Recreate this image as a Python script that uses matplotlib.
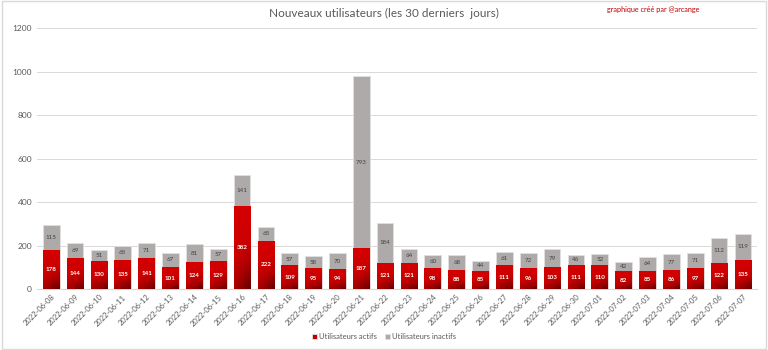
import matplotlib
matplotlib.use("Agg")
import matplotlib.pyplot as plt
from matplotlib.colors import LinearSegmentedColormap
import numpy as np
import datetime

plt.rcParams["font.family"] = ["Lato", "DejaVu Sans"]

start = datetime.date(2022, 6, 8)
dates = [(start + datetime.timedelta(days=i)).strftime("%Y-%m-%d") for i in range(30)]

actifs = [178, 144, 130, 135, 141, 101, 124, 129, 382, 222,
          109, 95, 94, 187, 121, 121, 98, 88, 85, 111,
          96, 103, 111, 110, 82, 85, 86, 97, 122, 135]
inactifs = [115, 69, 51, 65, 71, 67, 81, 57, 141, 65,
            57, 58, 70, 793, 184, 64, 60, 68, 44, 61,
            72, 79, 46, 52, 42, 64, 77, 71, 112, 119]

fig = plt.figure(figsize=(7.68, 3.5), dpi=100)
ax = fig.add_axes([0.048, 0.174, 0.938, 0.746])

x = np.arange(len(dates))
b1 = ax.bar(x, actifs, width=0.7, color="#C00000", edgecolor="#E6E6E6", linewidth=0.6,
            label="Utilisateurs actifs", zorder=3)
b2 = ax.bar(x, inactifs, width=0.7, bottom=actifs, color="#AEAAAA", edgecolor="#E0E0E0",
            linewidth=0.6, label="Utilisateurs inactifs", zorder=3)

# degrade rouge facon Excel (clair en haut, sombre en bas a droite)
reds = LinearSegmentedColormap.from_list("rouge", ["#D40000", "#C80000", "#A00000", "#6A0000"])
uu, vv = np.meshgrid(np.linspace(0, 1, 20), np.linspace(0, 1, 60))
grad = np.clip(0.6 * vv ** 1.6 + 0.45 * uu * vv ** 1.3, 0, 1)
for bar in b1:
    bx, by = bar.get_x(), bar.get_y()
    w, h = bar.get_width(), bar.get_height()
    im = ax.imshow(grad, cmap=reds, vmin=0, vmax=1, extent=[bx, bx + w, by, by + h],
                   origin="upper", aspect="auto", zorder=3.2, interpolation="bilinear")
    im.set_clip_path(bar)

# valeurs dans les barres
for i in range(len(dates)):
    ax.text(x[i], actifs[i] / 2, str(actifs[i]), ha="center", va="center",
            fontsize=4.5, color="white", fontweight="bold", zorder=4)
    ax.text(x[i], actifs[i] + inactifs[i] / 2, str(inactifs[i]), ha="center", va="center",
            fontsize=4.5, color="#404040", zorder=4)

ax.set_ylim(0, 1200)
ax.set_yticks(range(0, 1201, 200))
ax.set_xlim(-0.6, len(dates) - 0.4)
ax.set_xticks(x)
ax.set_xticklabels(dates, rotation=45, ha="right", rotation_mode="anchor", fontsize=5.5,
                   color="#595959")
ax.tick_params(axis="y", labelsize=6, colors="#595959", length=0)
ax.tick_params(axis="x", length=0, pad=3)
ax.grid(axis="y", color="#D9D9D9", linewidth=0.7, zorder=0)
for s in ax.spines.values():
    s.set_visible(False)
ax.spines["bottom"].set_visible(True)
ax.spines["bottom"].set_color("#D9D9D9")

fig.text(0.5, 0.962, "Nouveaux utilisateurs (les 30 derniers  jours)", ha="center", va="center",
         fontsize=8.5, color="#595959")
fig.text(0.85, 0.972, "graphique créé par @arcange", ha="center", va="center",
         fontsize=5.2, color="#C00000")

fig.legend(handles=[b1, b2], loc="center", bbox_to_anchor=(0.5, 0.038), ncol=2, frameon=False,
           fontsize=5.5, handlelength=0.7, handleheight=0.7, columnspacing=1.0, handletextpad=0.3,
           labelcolor="#595959")

# cadre du graphique
fig.patches.append(plt.Rectangle((0.002, 0.003), 0.996, 0.994, transform=fig.transFigure,
                                 fill=False, edgecolor="#D9D9D9", linewidth=1))

fig.savefig("out.png", dpi=100)
